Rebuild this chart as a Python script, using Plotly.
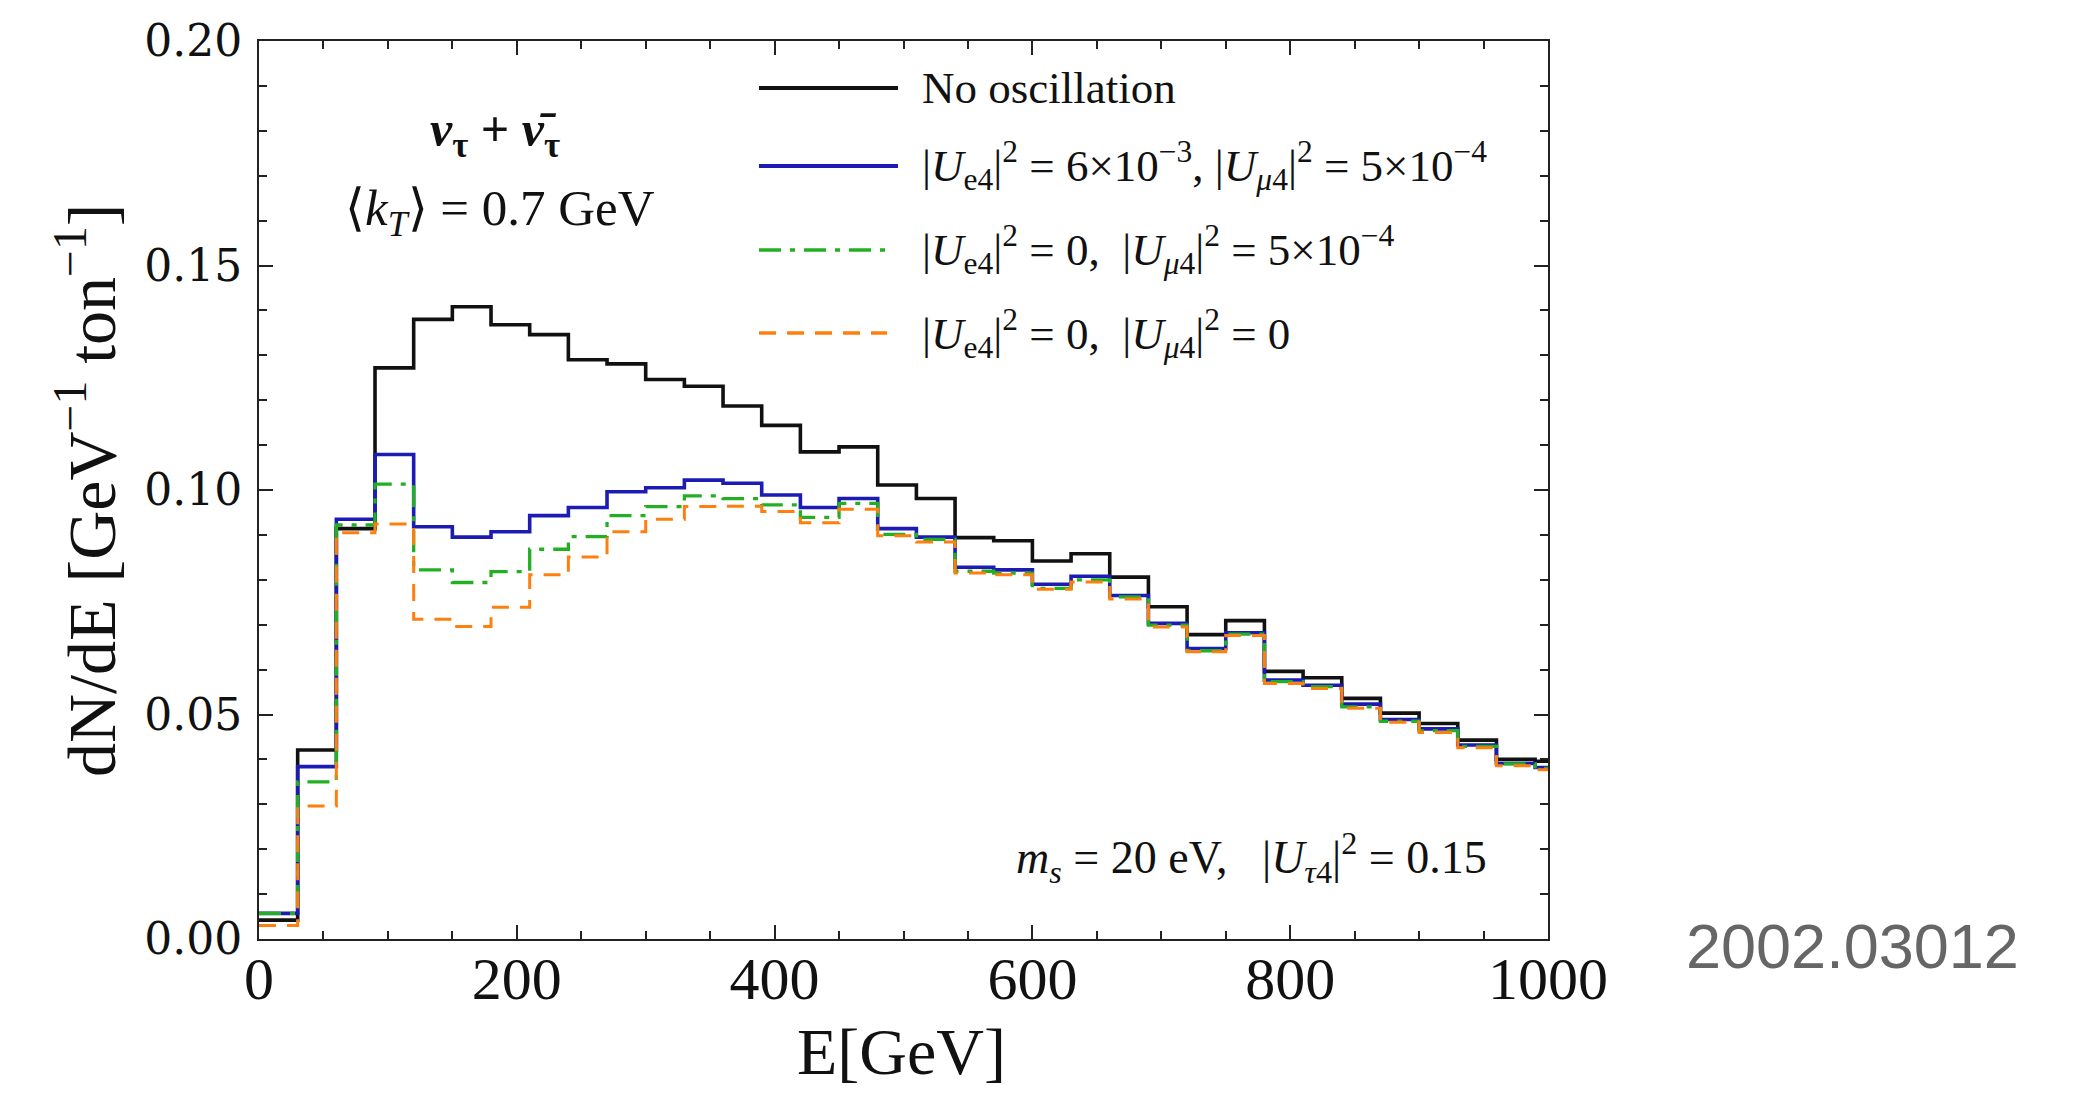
import plotly.graph_objects as go

# ---------------- data ----------------
bin_left = [0, 30, 60, 90, 120, 150, 180, 210, 240, 270, 300, 330, 360, 390, 420, 450, 480,
            510, 540, 570, 600, 630, 660, 690, 720, 750, 780, 810, 840, 870, 900, 930, 960, 990]
bin_end = 1020

no_osc = [0.0042, 0.0421, 0.0914, 0.1272, 0.1380, 0.1408, 0.1368, 0.1346, 0.1290, 0.1281,
          0.1246, 0.1231, 0.1187, 0.1144, 0.1085, 0.1096, 0.1011, 0.0981, 0.0894, 0.0887,
          0.0842, 0.0858, 0.0806, 0.0740, 0.0678, 0.0709, 0.0596, 0.0582, 0.0536, 0.0503,
          0.0480, 0.0443, 0.0400, 0.0396]
ue_umu = [0.0057, 0.0384, 0.0935, 0.1079, 0.0918, 0.0895, 0.0907, 0.0943, 0.0961, 0.0996,
          0.1005, 0.1022, 0.1015, 0.0989, 0.0961, 0.0981, 0.0914, 0.0895, 0.0828, 0.0822,
          0.0790, 0.0808, 0.0765, 0.0703, 0.0647, 0.0682, 0.0577, 0.0565, 0.0523, 0.0489,
          0.0468, 0.0432, 0.0391, 0.0382]
umu_only = [0.0057, 0.0350, 0.0922, 0.1013, 0.0822, 0.0794, 0.0818, 0.0868, 0.0896, 0.0943,
            0.0963, 0.0987, 0.0981, 0.0967, 0.0939, 0.0970, 0.0901, 0.0890, 0.0819, 0.0815,
            0.0781, 0.0800, 0.0762, 0.0699, 0.0642, 0.0679, 0.0573, 0.0562, 0.0517, 0.0485,
            0.0464, 0.0429, 0.0390, 0.0380]
no_mix = [0.0030, 0.0296, 0.0905, 0.0924, 0.0712, 0.0696, 0.0739, 0.0811, 0.0851, 0.0907,
          0.0935, 0.0963, 0.0964, 0.0952, 0.0927, 0.0957, 0.0898, 0.0884, 0.0815, 0.0811,
          0.0779, 0.0795, 0.0757, 0.0695, 0.0640, 0.0676, 0.0569, 0.0558, 0.0514, 0.0483,
          0.0460, 0.0426, 0.0386, 0.0377]

x_ticks = [0, 200, 400, 600, 800, 1000]
y_ticks = [0.00, 0.05, 0.10, 0.15, 0.20]
y_tick_text = ["0.00", "0.05", "0.10", "0.15", "0.20"]

legend_labels = [
    "No oscillation",
    "|<i>U</i><sub>e4</sub>|<sup>2</sup> = 6×10<sup>−3</sup>, |<i>U</i><sub><i>μ</i>4</sub>|<sup>2</sup> = 5×10<sup>−4</sup>",
    "|<i>U</i><sub>e4</sub>|<sup>2</sup> = 0,  |<i>U</i><sub><i>μ</i>4</sub>|<sup>2</sup> = 5×10<sup>−4</sup>",
    "|<i>U</i><sub>e4</sub>|<sup>2</sup> = 0,  |<i>U</i><sub><i>μ</i>4</sub>|<sup>2</sup> = 0",
]

# ---------------- styles ----------------
SERIF = "Liberation Serif"
styles = [
    dict(color="#111111", width=3.6, dash="solid"),
    dict(color="#1c1cb4", width=3.6, dash="solid"),
    dict(color="#22b022", width=3.3, dash="22px,9px,5px,9px"),
    dict(color="#ff7f0e", width=3.0, dash="17px,11px"),
]
series = [no_osc, ue_umu, umu_only, no_mix]

fig = go.Figure()
xs = bin_left + [bin_end]
for vals, st, name in zip(series, styles, legend_labels):
    fig.add_trace(go.Scatter(
        x=xs, y=vals + [vals[-1]], mode="lines", line_shape="hv",
        line=dict(color=st["color"], width=st["width"], dash=st["dash"]),
        name=name, showlegend=False, hoverinfo="skip"))

# plot area in pixels: x 259..1548, y 41..939
W, H = 2089, 1093
L, R, T, B = 259, 1548, 41, 939
pw, ph = R - L, B - T


def px(x):
    return (x - L) / pw


def py(y):
    return (B - y) / ph


# manual legend
leg_rows = [88, 166, 250, 333]
leg_x1 = [898, 898, 887, 887]
for row, st, lab, x1 in zip(leg_rows, styles, legend_labels, leg_x1):
    fig.add_shape(type="line", xref="paper", yref="paper",
                  x0=px(759), x1=px(x1), y0=py(row), y1=py(row),
                  line=dict(color=st["color"], width=st["width"] + 0.4, dash=st["dash"]))
    fig.add_annotation(xref="paper", yref="paper", x=px(920), y=py(row),
                       xanchor="left", yanchor="middle", showarrow=False,
                       text=lab, font=dict(family=SERIF, size=45, color="#111111"))

# in-plot labels
fig.add_annotation(xref="paper", yref="paper", x=px(495), y=py(133),
                   xanchor="center", yanchor="middle", showarrow=False,
                   text="<b><i>ν</i><sub>τ</sub> + <i>ν̄</i><sub>τ</sub></b>",
                   font=dict(family=SERIF, size=50, color="#111111"))
fig.add_annotation(xref="paper", yref="paper", x=px(500), y=py(212),
                   xanchor="center", yanchor="middle", showarrow=False,
                   text="⟨<i>k</i><sub><i>T</i></sub>⟩ = 0.7 GeV",
                   font=dict(family=SERIF, size=51, color="#111111"))
fig.add_annotation(xref="paper", yref="paper", x=px(1251), y=py(857),
                   xanchor="center", yanchor="middle", showarrow=False,
                   text="<i>m</i><sub><i>s</i></sub> = 20 eV,   |<i>U</i><sub><i>τ</i>4</sub>|<sup>2</sup> = 0.15",
                   font=dict(family=SERIF, size=46, color="#111111"))

# axis titles
fig.add_annotation(xref="paper", yref="paper", x=px(87), y=py(491),
                   xanchor="center", yanchor="middle", showarrow=False, textangle=-90,
                   text="dN/dE [GeV<sup>−1</sup> ton<sup>−1</sup>]",
                   font=dict(family=SERIF, size=68, color="#111111"))
fig.add_annotation(xref="paper", yref="paper", x=px(901), y=py(1051),
                   xanchor="center", yanchor="middle", showarrow=False,
                   text="E[GeV]",
                   font=dict(family=SERIF, size=66, color="#111111"))

# source tag
fig.add_annotation(xref="paper", yref="paper", x=px(1852), y=py(946),
                   xanchor="center", yanchor="middle", showarrow=False,
                   text="2002.03012",
                   font=dict(family="Liberation Sans", size=63, color="#666666"))

axis_common = dict(showline=True, linecolor="#222222", linewidth=2, mirror="allticks",
                   ticks="inside", tickcolor="#222222", tickwidth=2, ticklen=14,
                   showgrid=False, zeroline=False)

fig.update_xaxes(range=[0, 1000], tickvals=x_ticks, ticktext=[str(v) for v in x_ticks],
                 tickfont=dict(family=SERIF, size=60, color="#111111"),
                 minor=dict(dtick=50, ticks="inside", ticklen=8, tickwidth=1.5, tickcolor="#222222"),
                 ticklabelstandoff=-14,
                 **axis_common)
fig.update_yaxes(range=[0, 0.2], tickvals=y_ticks, ticktext=y_tick_text,
                 tickfont=dict(family="DejaVu Serif", size=44, color="#111111"),
                 minor=dict(dtick=0.01, ticks="inside", ticklen=8, tickwidth=1.5, tickcolor="#222222"),
                 ticklabelstandoff=6,
                 **axis_common)

fig.update_layout(width=W, height=H, autosize=False,
                  margin=dict(l=L, r=W - R, t=T, b=H - B, pad=0),
                  plot_bgcolor="white", paper_bgcolor="white", showlegend=False)

fig.write_html("out.html")
